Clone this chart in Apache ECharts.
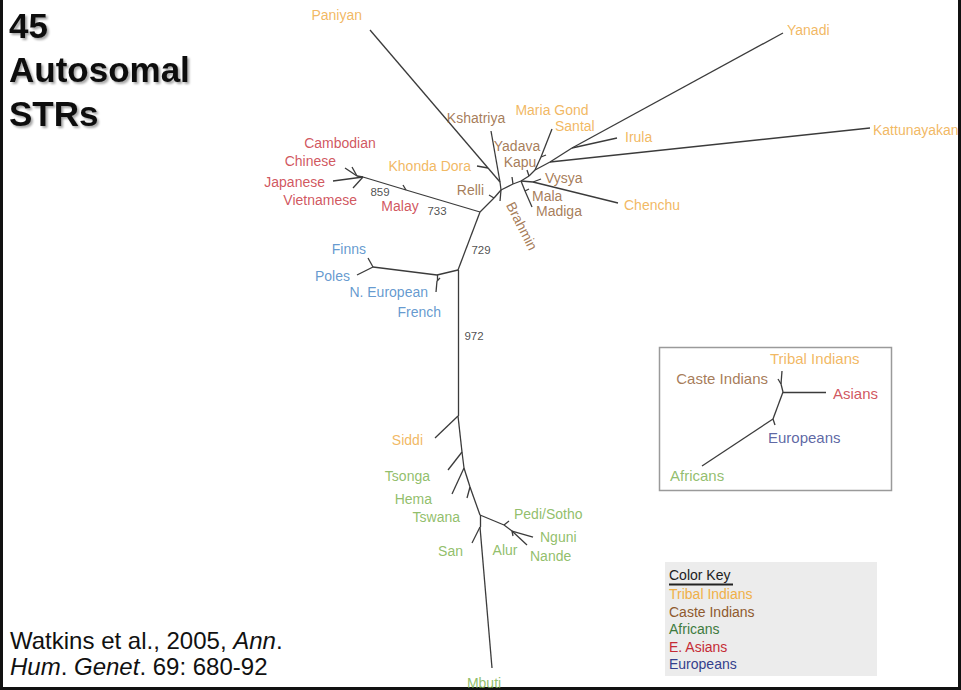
<!DOCTYPE html>
<html>
<head>
<meta charset="utf-8">
<script src="https://cdn.jsdelivr.net/npm/echarts@6/dist/echarts.min.js"></script>
<style>
  html, body { margin: 0; padding: 0; background: #fff; }
  #chart { width: 961px; height: 690px; }
</style>
</head>
<body>
<div id="chart"></div>
<script>
// ---- Unrooted neighbour-joining tree, 45 autosomal STRs ----
// Internal (ancestral) nodes, in tree-layout units
const innerNames = ['A0','S0','B0','B1','T1','T2','T3','T4','E0','E1','E2','E3',
                    'X0','M0','AS','AC','I1','I2','IP','IK','I3','I4','MM','VC','I5','I6','MS','I7','I8'];
const innerX = [480,480,504,512,470,464,462,458,458,437,373,437,
                480,406,363,357,494,501,500,488,513,521,525,533,529,535,541,550,572];
const innerY = [515,527,525,531,487,468,452,416,270,275,267,281,
                212,190,177,176,198,190,182,168,184,181,191,182,176,170,157,162,148];

// Terminal populations
const tipNames = ['Paniyan','Yanadi','Kattunayakan','Irula','Chenchu','Santal','Maria Gond','Khonda Dora',
                  'Kshatriya','Yadava','Kapu','Vysya','Mala','Madiga','Relli','Brahmin',
                  'Cambodian','Chinese','Japanese','Vietnamese','Malay',
                  'Finns','Poles','N. European','French',
                  'Siddi','Tsonga','Hema','Tswana','San','Alur','Pedi/Sotho','Nguni','Nande','Mbuti'];
const tipX = [370,783,870,617,618,552,546,477,
              491,527,512,541,529,532,489,500,
              352,345,333,353,403,
              368,357,440,436,
              435,448,452,467,472,513,509,533,527,492];
const tipY = [30,33,128,138,203,129,155,166,
              131,170,177,179,189,207,195,201,
              167,168,181,188,185,
              258,275,278,292,
              438,470,494,498,543,536,521,537,545,668];
const tipGroup = ['tribal','tribal','tribal','tribal','tribal','tribal','tribal','tribal',
                  'caste','caste','caste','caste','caste','caste','caste','caste',
                  'asian','asian','asian','asian','asian',
                  'euro','euro','euro','euro',
                  'tribal','african','african','african','african','african','african','african','african','african'];

// Branches (parent -> child)
const branches = [
  ['A0','S0'],['S0','Mbuti'],['S0','San'],
  ['A0','B0'],['B0','Pedi/Sotho'],['B0','B1'],['B1','Nguni'],['B1','Nande'],['B1','Alur'],
  ['A0','T1'],['T1','Tswana'],['T1','T2'],['T2','Hema'],['T2','T3'],['T3','Tsonga'],
  ['T3','T4'],['T4','Siddi'],['T4','E0'],
  ['E0','E1'],['E1','E2'],['E2','Finns'],['E2','Poles'],['E1','E3'],['E3','French'],['E3','N. European'],
  ['E0','X0'],['X0','M0'],['M0','Malay'],['M0','AS'],['AS','Japanese'],['AS','Vietnamese'],
  ['AS','AC'],['AC','Chinese'],['AC','Cambodian'],
  ['X0','I1'],['I1','Relli'],['I1','I2'],['I2','Brahmin'],['I2','IP'],['IP','Kshatriya'],
  ['IP','IK'],['IK','Khonda Dora'],['IK','Paniyan'],
  ['I2','I3'],['I3','Kapu'],['I3','I4'],['I4','MM'],['MM','Mala'],['MM','Madiga'],
  ['I4','VC'],['VC','Vysya'],['VC','Chenchu'],
  ['I4','I5'],['I5','Yadava'],['I5','I6'],['I6','MS'],['MS','Santal'],['MS','Maria Gond'],
  ['I6','I7'],['I7','Kattunayakan'],['I7','I8'],['I8','Irula'],['I8','Yanadi']
];

// Bootstrap support (out of 1000) at selected nodes
const supportNodes  = ['AS','X0','X0','E0'];
const supportValues = ['859','733','729','972'];

// Summary tree of the five population groups (inset)
const insetInnerNames = ['H0','H1','HE'];
const insetInnerX = [783,781,773];
const insetInnerY = [392,384,419];
const insetTipNames = ['Tribal Indians','Caste Indians','Asians','Europeans','Africans'];
const insetTipX = [782,778,826,775,702];
const insetTipY = [371,379,392,425,466];
const insetBranches = [['H0','H1'],['H1','Tribal Indians'],['H1','Caste Indians'],['H0','Asians'],
                       ['H0','HE'],['HE','Europeans'],['HE','Africans']];

// Colour key entries
const keyLabels = ['Tribal Indians','Caste Indians','Africans','E. Asians','Europeans'];

// ---- styling ----
const groupColor = { tribal:'#eea639', caste:'#8f5a2e', african:'#75ae44', asian:'#c52b35', euro:'#3d7fc3' };
const insetColor = { 'Tribal Indians':'#eea639', 'Caste Indians':'#8f5a2e', 'Asians':'#c52b35',
                     'Europeans':'#343f8d', 'Africans':'#77ad48' };
const keyColor = ['#f0b048','#8f5a2e','#3e7b3e','#c52b35','#343f8d'];
const FONT = 'Liberation Sans, Arial, Helvetica, sans-serif';
const EDGE = '#3b3b3b';

// label placement: [dx, dy, align, rotate]
const labelPlace = {
  'Paniyan':[-8,-15,'right'], 'Yanadi':[4,-3,'left'], 'Kattunayakan':[3,2,'left'],
  'Irula':[8,-1,'left'], 'Chenchu':[6,2,'left'], 'Santal':[3,-3,'left'],
  'Maria Gond':[6,-45,'center'], 'Khonda Dora':[-6,0,'right'], 'Kshatriya':[-15,-13,'center'],
  'Yadava':[-10,-24,'center'], 'Kapu':[8,-15,'center'], 'Vysya':[4,-1,'left'],
  'Mala':[3,7,'left'], 'Madiga':[4,4,'left'], 'Relli':[-5,-5,'right'],
  'Brahmin':[22,25,'center',-63],
  'Cambodian':[-12,-24,'center'], 'Chinese':[-9,-7,'right'], 'Japanese':[-8,1,'right'],
  'Vietnamese':[4,12,'right'], 'Malay':[-3,21,'center'],
  'Finns':[-2,-9,'right'], 'Poles':[-7,1,'right'], 'N. European':[-12,14,'right'], 'French':[5,20,'right'],
  'Siddi':[-12,2,'right'], 'Tsonga':[-18,6,'right'], 'Hema':[-20,5,'right'], 'Tswana':[-7,19,'right'],
  'San':[-9,8,'right'], 'Alur':[-8,14,'center'], 'Pedi/Sotho':[5,-7,'left'], 'Nguni':[7,0,'left'],
  'Nande':[3,11,'left'], 'Mbuti':[-8,15,'center']
};
const supportPlace = [[17,15],[-43,-1],[1,38],[16,66]];
const insetPlace = {
  'Tribal Indians':[-12,-13,'left'], 'Caste Indians':[-10,-1,'right'], 'Asians':[7,1,'left'],
  'Europeans':[-7,12,'left'], 'Africans':[-32,9,'left']
};

// ---- build lookup of positions ----
const pos = {};
innerNames.forEach((n, i) => pos[n] = [innerX[i], innerY[i]]);
tipNames.forEach((n, i) => pos[n] = [tipX[i], tipY[i]]);
const ipos = {};
insetInnerNames.forEach((n, i) => ipos[n] = [insetInnerX[i], insetInnerY[i]]);
insetTipNames.forEach((n, i) => ipos[n] = [insetTipX[i], insetTipY[i]]);

const edgeData = branches.map(([a, b]) => ({ coords: [pos[a], pos[b]] }))
  .concat(insetBranches.map(([a, b]) => ({ coords: [ipos[a], ipos[b]] })));

function labelItem(name, p, place, color, size) {
  return {
    value: [p[0] + place[0], p[1] + place[1]],
    name: name,
    label: {
      show: true, position: 'inside', formatter: name,
      align: place[2], verticalAlign: 'middle', rotate: place[3] || 0,
      color: color, fontSize: size, fontFamily: FONT
    }
  };
}
const tipLabels = tipNames.map((n, i) => labelItem(n, pos[n], labelPlace[n], groupColor[tipGroup[i]], 14));
const supportLabels = supportValues.map((v, i) =>
  labelItem(v, pos[supportNodes[i]], [supportPlace[i][0], supportPlace[i][1], 'center'], '#222', 11.5));
const insetLabels = insetTipNames.map(n => labelItem(n, ipos[n], insetPlace[n], insetColor[n], 15));

// ---- colour key & frame graphics ----
const keyGraphics = [
  { type:'rect', left:665, top:562, shape:{ width:212, height:114 }, style:{ fill:'#ececec' }, z:0 },
  { type:'text', left:669, top:568, style:{ text:'Color Key', fill:'#222', font:'14px ' + FONT } },
  { type:'line', shape:{ x1:669, y1:584.5, x2:733, y2:584.5 }, style:{ stroke:'#222', lineWidth:2 } }
].concat(keyLabels.map((t, i) => ({
  type:'text', left:669, top:587 + i * 17.6, style:{ text:t, fill:keyColor[i], font:'14px ' + FONT }
})));

const chart = echarts.init(document.getElementById('chart'), null, { renderer: 'svg' });
chart.setOption({
  animation: false,
  backgroundColor: '#fff',
  grid: { left: 0, right: 0, top: 0, bottom: 0 },
  xAxis: { type: 'value', min: 0, max: 961, show: false },
  yAxis: { type: 'value', min: 0, max: 690, inverse: true, show: false },
  title: {
    text: '45\nAutosomal\nSTRs', left: 9, top: 3, padding: 0,
    textStyle: {
      fontFamily: FONT, fontSize: 35, fontWeight: 'bold', lineHeight: 44, color: '#111',
      textShadowColor: 'rgba(0,0,0,0.35)', textShadowOffsetX: 2, textShadowOffsetY: 2, textShadowBlur: 2
    }
  },
  graphic: [
    { type:'rect', left:0, top:0, shape:{ width:3, height:690 }, style:{ fill:'#111' } },
    { type:'rect', left:958, top:0, shape:{ width:3, height:690 }, style:{ fill:'#111' } },
    { type:'rect', left:0, top:687, shape:{ width:961, height:3 }, style:{ fill:'#111' } },
    { type:'rect', left:657, top:345, shape:{ width:232, height:143 },
      style:{ fill:'none', stroke:'#9a9a9a', lineWidth:1.5 } },
    { type:'text', left:10, top:627,
      style:{
        text:'Watkins et al., 2005, {i|Ann}.\n{i|Hum}. {i|Genet}. 69: 680-92',
        font:'24px ' + FONT, fill:'#111', lineHeight:26,
        rich:{ i:{ fontStyle:'italic', fontSize:24, fontFamily:FONT, fill:'#111' } }
      } }
  ].concat(keyGraphics),
  series: [
    {
      type: 'lines', coordinateSystem: 'cartesian2d', silent: true,
      lineStyle: { color: EDGE, width: 1.3, opacity: 1 },
      data: edgeData
    },
    {
      type: 'scatter', silent: true, symbolSize: 1,
      itemStyle: { color: 'rgba(0,0,0,0)' },
      data: tipLabels.concat(supportLabels, insetLabels)
    }
  ]
});
</script>
</body>
</html>
